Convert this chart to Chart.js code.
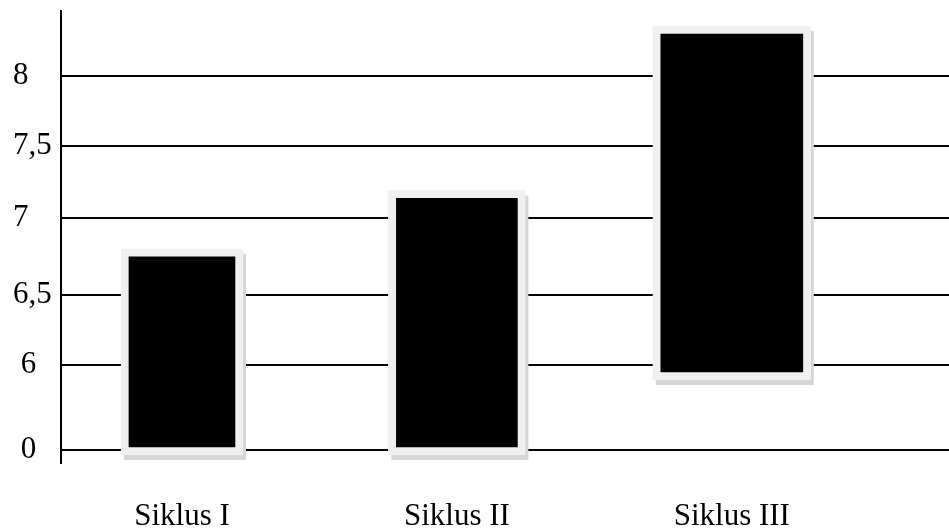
<!DOCTYPE html>
<html>
  <head>
    <title>Siklus</title>
    <script src="https://cdn.jsdelivr.net/npm/chart.js@4.4.0/dist/chart.umd.min.js"></script>
    <style>
      html, body { margin: 0; padding: 0; background: #fff; }
    </style>
  </head>

  <body>
    <canvas id="canvas" width="949" height="530"></canvas>
    <script>
      // data
      const categories = ['Siklus I', 'Siklus II', 'Siklus III'];
      const barLow = [-0.35, -0.35, 4.94];
      const barHigh = [6.8, 7.19, 8.36];
      const tickValues = [0, 6, 6.5, 7, 7.5, 8];
      const tickLabels = [' 0', ' 6', '6,5', '7', '7,5', '8'];

      // the value axis of the original is broken (0 then 6..8), so map values
      // onto an axis whose stops follow the drawn gridlines
      const axisStops = [0, 85, 155, 232, 304.5, 374];
      const barWidths = [122, 137, 158];
      const font = { family: 'Liberation Serif', size: 31 };

      function toAxis(v) {
        const n = tickValues.length;
        let i = 0;
        if (v >= tickValues[n - 1]) i = n - 2;
        else while (i < n - 2 && v > tickValues[i + 1]) i++;
        const t = (v - tickValues[i]) / (tickValues[i + 1] - tickValues[i]);
        return axisStops[i] + t * (axisStops[i + 1] - axisStops[i]);
      }

      const shadowPlugin = {
        id: 'barShadow',
        beforeDatasetsDraw(chart) {
          const ctx = chart.ctx;
          ctx.save();
          ctx.fillStyle = '#d6d6d6';
          chart.data.datasets.forEach((ds, i) => {
            chart.getDatasetMeta(i).data.forEach((bar) => {
              const p = bar.getProps(['x', 'y', 'base', 'width']);
              const top = Math.min(p.y, p.base);
              const h = Math.abs(p.base - p.y);
              ctx.fillRect(p.x - p.width / 2 + 3, top + 5, p.width, h);
            });
          });
          ctx.restore();
        },
      };

      const datasets = categories.map((name, i) => ({
        label: name,
        data: [{ x: i, y: [toAxis(barLow[i]), toAxis(barHigh[i])] }],
        backgroundColor: '#000',
        borderColor: '#f0f0f0',
        borderWidth: 8,
        borderSkipped: false,
        barThickness: barWidths[i],
        grouped: false,
      }));

      const ctx = document.getElementById('canvas').getContext('2d');
      new Chart(ctx, {
        type: 'bar',
        data: { datasets },
        plugins: [shadowPlugin],
        options: {
          responsive: false,
          animation: false,
          layout: { padding: { left: 13, top: 11, right: 0, bottom: 0 } },
          plugins: { legend: { display: false }, tooltip: { enabled: false } },
          scales: {
            x: {
              type: 'linear',
              offset: false,
              min: -0.44,
              max: 2.79,
              afterBuildTicks: (s) => { s.ticks = categories.map((c, i) => ({ value: i })); },
              afterFit: (s) => { s.height = 67; },
              ticks: {
                callback: (v) => categories[v],
                font,
                color: '#000',
                padding: 27,
                maxRotation: 0,
                autoSkip: false,
              },
              grid: { display: false },
              border: { display: false },
            },
            y: {
              type: 'linear',
              min: -13,
              max: 439,
              afterBuildTicks: (s) => { s.ticks = axisStops.map((v) => ({ value: v })); },
              afterFit: (s) => { s.width = 48; },
              ticks: {
                callback: (v) => tickLabels[axisStops.indexOf(v)],
                crossAlign: 'far',
                font: { family: 'Liberation Serif', size: 31, lineHeight: 0.7 },
                color: '#000',
                padding: 0,
              },
              grid: { color: '#000', lineWidth: 2, drawTicks: false },
              border: { color: '#000', width: 2 },
            },
          },
        },
      });
    </script>
  </body>
</html>
